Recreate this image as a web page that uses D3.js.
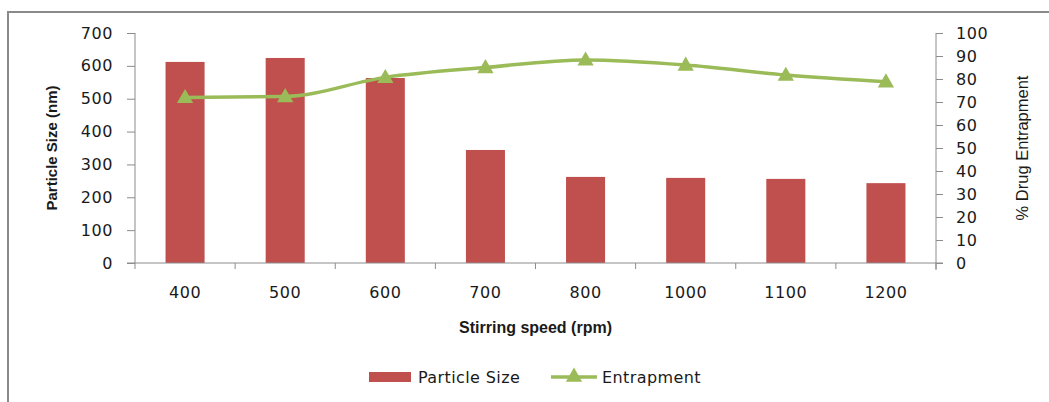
<!DOCTYPE html>
<html>
<head>
<meta charset="utf-8">
<script src="https://cdn.jsdelivr.net/npm/d3@7"></script>
<style>
    body { margin: 0; background: #fff; }
    text { font-family: "DejaVu Sans", sans-serif; fill: #1a1a1a; }
    .axis path, .axis line { stroke: #8c8c8c; }
</style>
</head>
<body>
<div id="chart"></div>
<script>
// data
let speeds = ["400", "500", "600", "700", "800", "1000", "1100", "1200"];
let particleSize = [612, 624, 563, 344, 262, 259, 256, 243];
let entrapment = [72, 72.4, 80.7, 85, 88.3, 86.1, 81.7, 78.8];
let leftTicks = [0, 100, 200, 300, 400, 500, 600, 700];
let rightTicks = [0, 10, 20, 30, 40, 50, 60, 70, 80, 90, 100];

let width = 1049, height = 402;
let margin = {top: 33, right: 113, bottom: 139, left: 135};

let svg = d3.select("#chart").append("svg")
    .attr("width", width)
    .attr("height", height);

// chart border (runs off the right and bottom of the picture)
svg.append("rect")
    .attr("x", 8).attr("y", 12)
    .attr("width", 1080).attr("height", 440)
    .attr("fill", "none")
    .attr("stroke", "#8a8a8a")
    .attr("stroke-width", 2);

let x = d3.scaleBand()
    .domain(speeds)
    .range([margin.left, width - margin.right])
    .padding(0);

let yLeft = d3.scaleLinear()
    .domain([0, 700])
    .range([height - margin.bottom, margin.top]);

let yRight = d3.scaleLinear()
    .domain([0, 100])
    .range([height - margin.bottom, margin.top]);

// bars
svg.append("g").selectAll("rect")
    .data(speeds)
    .enter()
    .append("rect")
    .attr("x", d => x(d) + x.bandwidth() * 0.305)
    .attr("width", x.bandwidth() * 0.39)
    .attr("y", (d, i) => yLeft(particleSize[i]))
    .attr("height", (d, i) => yLeft(0) - yLeft(particleSize[i]))
    .attr("fill", "#c0504d");

// axes
let leftAxis = svg.append("g")
    .attr("class", "axis")
    .attr("transform", `translate(${margin.left},0)`)
    .call(d3.axisLeft(yLeft).tickValues(leftTicks).tickSize(8).tickPadding(14));

let rightAxis = svg.append("g")
    .attr("class", "axis")
    .attr("transform", `translate(${width - margin.right},0)`)
    .call(d3.axisRight(yRight).tickValues(rightTicks).tickSize(7).tickPadding(13));

// x axis: ticks at band edges, labels at band centres
let xAxisG = svg.append("g")
    .attr("class", "axis")
    .attr("transform", `translate(0,${height - margin.bottom})`);
xAxisG.append("line")
    .attr("x1", margin.left - 8).attr("x2", width - margin.right + 7)
    .attr("y1", 0).attr("y2", 0);
xAxisG.selectAll(".edge")
    .data(speeds.concat(["end"]))
    .enter()
    .append("line")
    .attr("class", "edge")
    .attr("x1", (d, i) => margin.left + i * x.bandwidth())
    .attr("x2", (d, i) => margin.left + i * x.bandwidth())
    .attr("y1", 0).attr("y2", 6);
xAxisG.selectAll(".lbl")
    .data(speeds)
    .enter()
    .append("text")
    .attr("class", "lbl")
    .attr("x", d => x(d) + x.bandwidth() / 2)
    .attr("y", 35)
    .attr("text-anchor", "middle")
    .style("font-size", "16px")
    .style("letter-spacing", "0.6px")
    .text(d => d);

svg.selectAll(".axis .tick text")
    .style("font-size", "16px")
    .style("letter-spacing", "0.6px")
    .style("fill", "#1a1a1a");
leftAxis.select(".domain").attr("d", `M0,${margin.top}V${height - margin.bottom}`);
rightAxis.select(".domain").attr("d", `M0,${margin.top}V${height - margin.bottom + 7}`);

// entrapment line
let line = d3.line()
    .x((d, i) => x(speeds[i]) + x.bandwidth() / 2)
    .y(d => yRight(d))
    .curve(d3.curveMonotoneX);

svg.append("path")
    .datum(entrapment)
    .attr("d", line)
    .attr("fill", "none")
    .attr("stroke", "#9bbb59")
    .attr("stroke-width", 3.5);

let tri = d3.symbol().type(d3.symbolTriangle).size(115);
svg.append("g").selectAll("path")
    .data(entrapment)
    .enter()
    .append("path")
    .attr("d", tri)
    .attr("transform", (d, i) => `translate(${x(speeds[i]) + x.bandwidth() / 2},${yRight(d) + 1})`)
    .attr("fill", "#9bbb59");

// axis titles
svg.append("text")
    .attr("transform", `translate(57,${(margin.top + height - margin.bottom) / 2}) rotate(-90)`)
    .attr("text-anchor", "middle")
    .style("font-family", "'Liberation Sans', sans-serif")
    .style("font-weight", "bold")
    .style("font-size", "15px")
    .text("Particle Size (nm)");

svg.append("text")
    .attr("transform", `translate(1028,${(margin.top + height - margin.bottom) / 2}) rotate(-90)`)
    .attr("text-anchor", "middle")
    .style("font-family", "'Liberation Sans', sans-serif")
    .style("font-size", "16.5px")
    .text("% Drug Entrapment");

svg.append("text")
    .attr("x", (margin.left + width - margin.right) / 2)
    .attr("y", 333)
    .attr("text-anchor", "middle")
    .style("font-family", "'Liberation Sans', sans-serif")
    .style("font-weight", "bold")
    .style("font-size", "16px")
    .text("Stirring speed (rpm)");

// legend
let legend = svg.append("g");
legend.append("rect")
    .attr("x", 369).attr("y", 372)
    .attr("width", 42).attr("height", 10)
    .attr("fill", "#c0504d");
legend.append("text")
    .attr("x", 418).attr("y", 383)
    .style("font-size", "16px")
    .style("letter-spacing", "0.4px")
    .text("Particle Size");
legend.append("line")
    .attr("x1", 551).attr("x2", 597)
    .attr("y1", 377).attr("y2", 377)
    .attr("stroke", "#9bbb59")
    .attr("stroke-width", 3.5);
legend.append("path")
    .attr("d", tri)
    .attr("transform", "translate(574,377)")
    .attr("fill", "#9bbb59");
legend.append("text")
    .attr("x", 602).attr("y", 383)
    .style("font-size", "16px")
    .style("letter-spacing", "0.4px")
    .text("Entrapment");
</script>
</body>
</html>
